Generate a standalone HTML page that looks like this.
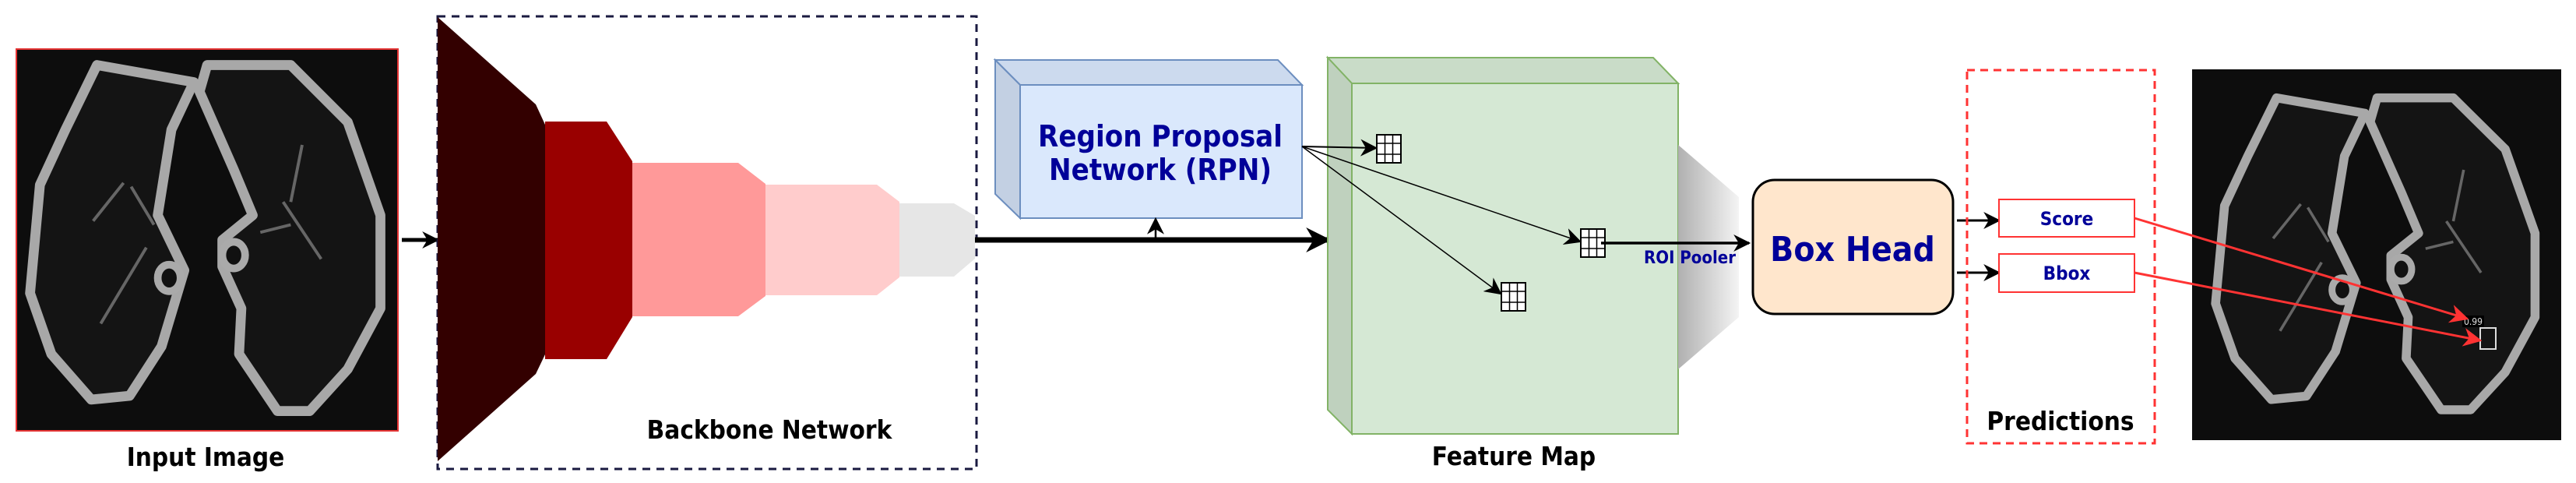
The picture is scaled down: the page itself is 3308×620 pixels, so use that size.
<!DOCTYPE html>
<html><head><meta charset="utf-8"><style>html,body{margin:0;padding:0;background:#fff}svg{display:block}text{font-family:"DejaVu Sans Condensed","DejaVu Sans","Liberation Sans",sans-serif;font-weight:bold;font-stretch:condensed}</style></head><body>
<svg width="3308" height="620" viewBox="0 0 3308 620" xmlns="http://www.w3.org/2000/svg">
<defs>
<marker id="ah" viewBox="0 0 10 10" refX="9" refY="5" markerWidth="8" markerHeight="8" orient="auto" markerUnits="userSpaceOnUse"><path d="M0,0 L10,5 L0,10 L3,5z" fill="#000"/></marker>
<marker id="ahs" viewBox="0 0 10 10" refX="9" refY="5" markerWidth="22" markerHeight="22" orient="auto" markerUnits="userSpaceOnUse"><path d="M0,0 L10,5 L0,10 L3,5z" fill="#000"/></marker>
<marker id="ahb" viewBox="0 0 10 10" refX="9" refY="5" markerWidth="32" markerHeight="32" orient="auto" markerUnits="userSpaceOnUse"><path d="M0,0 L10,5 L0,10 L3,5z" fill="#000"/></marker>
<marker id="ahr" viewBox="0 0 10 10" refX="9" refY="5" markerWidth="24" markerHeight="24" orient="auto" markerUnits="userSpaceOnUse"><path d="M0,0 L10,5 L0,10 L3,5z" fill="#ff3333"/></marker>
<linearGradient id="gp" x1="0" x2="1" y1="0" y2="0"><stop offset="0" stop-color="#b0b0b0"/><stop offset="1" stop-color="#f4f4f4"/></linearGradient>
<symbol id="lung" viewBox="0 0 100 100" preserveAspectRatio="none">
<rect width="100" height="100" fill="#0d0d0d"/>
<path d="M21,4 L46.5,8.5 L40.6,21 L37,43.5 L44,58 L38,78 L29.6,91 L19.5,92 L9,80 L3.4,64 L6,35.5 L12.7,21 Z" fill="#141414" stroke="#a8a8a8" stroke-width="2.6" stroke-linejoin="round"/>
<path d="M50,4 L72,4 L87,19 L95.6,43.5 L95.6,68 L87,84 L77,95 L68.5,95 L58.4,80 L59,68 L54,57 L54,50 L62,43.5 L57,31.5 L48,11 Z" fill="#141414" stroke="#a8a8a8" stroke-width="2.6" stroke-linejoin="round"/>
<ellipse cx="40" cy="60" rx="3" ry="3.5" fill="#111" stroke="#aaa" stroke-width="2"/>
<ellipse cx="57" cy="54" rx="3" ry="3.5" fill="#111" stroke="#aaa" stroke-width="2"/>
<path d="M34,52 L22,72 M70,40 L80,55 M28,35 L20,45 M75,25 L72,40 M36,46 L30,36 M64,48 L72,46" stroke="#666" stroke-width="0.8" fill="none"/>
</symbol>
<symbol id="grid" viewBox="0 0 33 38">
<rect x="1" y="1" width="31" height="36" fill="#fff" stroke="#000" stroke-width="2"/>
<path d="M11.5,1V37M21.5,1V37M1,12H32M1,26H32" stroke="#000" stroke-width="1.5"/>
</symbol>
</defs>

<rect x="21" y="63" width="490" height="490" fill="#0d0d0d" stroke="#e53333" stroke-width="2"/>
<use href="#lung" x="22" y="64" width="488" height="488"/>
<text x="264" y="598" font-size="33" text-anchor="middle" fill="#000">Input Image</text>

<line x1="516" y1="308" x2="562" y2="308" stroke="#000" stroke-width="5" marker-end="url(#ahs)"/>

<rect x="562" y="21" width="692" height="581" fill="none" stroke="#1a1a40" stroke-width="3" stroke-dasharray="10,8"/>
<path d="M562,22 L688,134 L700,160 L700,455 L688,480 L562,592 Z" fill="#330000"/>
<path d="M700,156 L779,156 L812,207 L812,407 L779,461 L700,461 Z" fill="#990000"/>
<path d="M812,209 L948,209 L983,236 L983,380 L948,406 L812,406 Z" fill="#ff9999"/>
<path d="M983,237 L1126,237 L1155,259 L1155,356 L1126,379 L983,379 Z" fill="#ffcccc"/>
<path d="M1155,261 L1225,261 L1252,277 L1252,332 L1225,355 L1155,355 Z" fill="#e6e6e6"/>
<text x="988" y="563" font-size="33" text-anchor="middle" fill="#000">Backbone Network</text>

<path d="M1278,77 L1641,77 L1672,109 L1310,109 Z" fill="#ccdaee" stroke="#6c8ebf" stroke-width="2"/>
<path d="M1278,77 L1310,109 L1310,280 L1278,249 Z" fill="#c3d0e3" stroke="#6c8ebf" stroke-width="2"/>
<rect x="1310" y="109" width="362" height="171" fill="#dae8fc" stroke="#6c8ebf" stroke-width="2"/>
<text x="1490" y="188" font-size="38" text-anchor="middle" fill="#000099">Region Proposal</text>
<text x="1490" y="231" font-size="38" text-anchor="middle" fill="#000099">Network (RPN)</text>

<line x1="1252" y1="308" x2="1706" y2="308" stroke="#000" stroke-width="7" marker-end="url(#ahb)"/>
<line x1="1484" y1="308" x2="1484" y2="281" stroke="#000" stroke-width="2.5" marker-end="url(#ahs)"/>

<path d="M1705,74 L2123,74 L2155,107 L1736,107 Z" fill="#c9dcc8" stroke="#82b366" stroke-width="2"/>
<path d="M1705,74 L1736,107 L1736,557 L1705,526 Z" fill="#bfd1be" stroke="#82b366" stroke-width="2"/>
<rect x="1736" y="107" width="419" height="450" fill="#d5e8d4" stroke="#82b366" stroke-width="2"/>
<text x="1944" y="597" font-size="33" text-anchor="middle" fill="#000">Feature Map</text>

<path d="M2155,186 L2233,253 L2233,407 L2155,474 Z" fill="url(#gp)"/>

<line x1="1672" y1="188" x2="1767" y2="190" stroke="#000" stroke-width="2" marker-end="url(#ahs)"/>
<line x1="1672" y1="188" x2="2029" y2="310" stroke="#000" stroke-width="1.5" marker-end="url(#ahs)"/>
<line x1="1672" y1="188" x2="1927" y2="377" stroke="#000" stroke-width="1.5" marker-end="url(#ahs)"/>
<use href="#grid" x="1767" y="172" width="33" height="38"/>
<use href="#grid" x="2029" y="293" width="33" height="38"/>
<use href="#grid" x="1927" y="362" width="33" height="38"/>
<line x1="2056" y1="312" x2="2246" y2="312" stroke="#000" stroke-width="3.5" marker-end="url(#ahs)"/>
<text x="2170" y="338" font-size="22" text-anchor="middle" fill="#000099">ROI Pooler</text>

<rect x="2251" y="231" width="257" height="172" rx="28" fill="#ffe6cc" stroke="#000" stroke-width="3"/>
<text x="2379" y="335" font-size="44" text-anchor="middle" fill="#000099">Box Head</text>
<line x1="2513" y1="283" x2="2567" y2="283" stroke="#000" stroke-width="3" marker-end="url(#ahs)"/>
<line x1="2513" y1="350" x2="2567" y2="350" stroke="#000" stroke-width="3" marker-end="url(#ahs)"/>

<rect x="2526" y="90" width="241" height="479" fill="none" stroke="#ff3333" stroke-width="3" stroke-dasharray="10,7"/>
<rect x="2567" y="256" width="174" height="48" fill="#fff" stroke="#ff3333" stroke-width="2"/>
<text x="2654" y="289" font-size="24" text-anchor="middle" fill="#000099">Score</text>
<rect x="2567" y="326" width="174" height="49" fill="#fff" stroke="#ff3333" stroke-width="2"/>
<text x="2654" y="359" font-size="24" text-anchor="middle" fill="#000099">Bbox</text>
<text x="2646" y="552" font-size="33" text-anchor="middle" fill="#000">Predictions</text>

<rect x="2815" y="89" width="474" height="476" fill="#0d0d0d"/>
<use href="#lung" x="2830" y="108" width="445" height="440"/>
<rect x="3185" y="421" width="20" height="27" fill="none" stroke="#ddd" stroke-width="2"/>
<rect x="3162" y="405" width="28" height="15" fill="#000"/>
<text x="3176" y="417" font-size="12" text-anchor="middle" fill="#ddd" style="font-weight:normal">0.99</text>
<line x1="2741" y1="280" x2="3168" y2="409" stroke="#ff3333" stroke-width="3" marker-end="url(#ahr)"/>
<line x1="2741" y1="350" x2="3185" y2="437" stroke="#ff3333" stroke-width="3" marker-end="url(#ahr)"/>
</svg>
</body></html>
